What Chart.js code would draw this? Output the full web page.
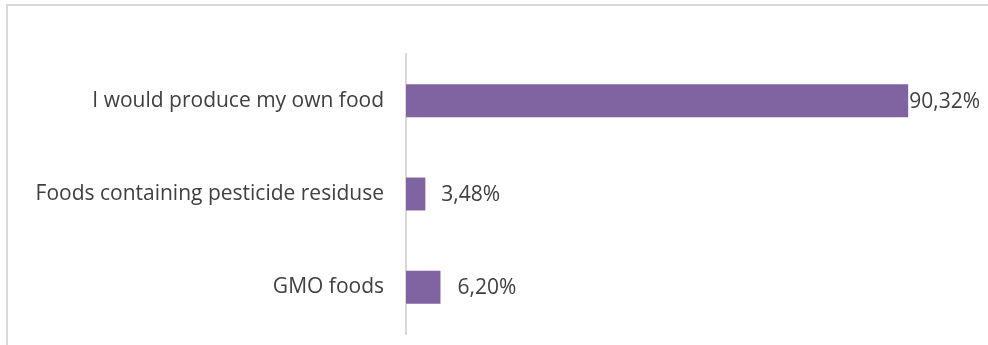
<!DOCTYPE html>
<html>
<head>
<meta charset="utf-8">
<script src="https://cdn.jsdelivr.net/npm/chart.js@4"></script>
<style>
  html, body { margin: 0; padding: 0; background: #fff; }
  #wrap { position: relative; width: 988px; height: 345px; overflow: hidden; }
  #frame { position: absolute; left: 6px; top: 4px; width: 1000px; height: 400px;
           border-top: 2px solid #d9d9d9; border-left: 2px solid #d9d9d9; }
  canvas { position: absolute; left: 0; top: 0; }
</style>
</head>
<body>
<div id="wrap">
  <div id="frame"></div>
  <canvas id="myChart" width="988" height="345"></canvas>
</div>
<script>
categories = ["I would produce my own food", "Foods containing pesticide residuse", "GMO foods"]
shares = [90.32, 3.48, 6.20]

// value text next to the end of each bar, decimal comma
let barLabels = {
  id: 'barLabels',
  afterDatasetsDraw(chart) {
    let c = chart.ctx
    let gaps = [1, 16, 17]
    c.save()
    c.font = '21px "Open Sans"'
    c.fillStyle = '#404040'
    c.textAlign = 'left'
    c.textBaseline = 'middle'
    chart.getDatasetMeta(0).data.forEach(function(bar, i) {
      let txt = shares[i].toFixed(2).replace('.', ',') + '%'
      c.fillText(txt, bar.x + gaps[i], bar.y + 1)
    })
    c.restore()
  }
}

let ctx = document.getElementById('myChart')
new Chart(ctx, {
  type: 'bar',
  data: {
    labels: categories,
    datasets: [{
      data: shares,
      backgroundColor: '#8064a2',
      borderWidth: 0,
      categoryPercentage: 1,
      barPercentage: 0.353
    }]
  },
  options: {
    indexAxis: 'y',
    responsive: false,
    maintainAspectRatio: false,
    animation: false,
    layout: { padding: { top: 54, bottom: 11, right: 26, left: 0 } },
    plugins: { legend: { display: false }, tooltip: { enabled: false } },
    scales: {
      x: { display: false, min: 0, max: 100 },
      y: {
        grid: { display: false, drawTicks: false },
        border: { display: true, color: '#d9d9d9', width: 2 },
        ticks: { color: '#404040', font: { family: 'Open Sans', size: 21 }, padding: 22 },
        afterFit: function(scale) {
          scale.width = 406
          scale.paddingTop = 0
          scale.paddingBottom = 0
        }
      }
    }
  },
  plugins: [barLabels]
})
</script>
</body>
</html>
